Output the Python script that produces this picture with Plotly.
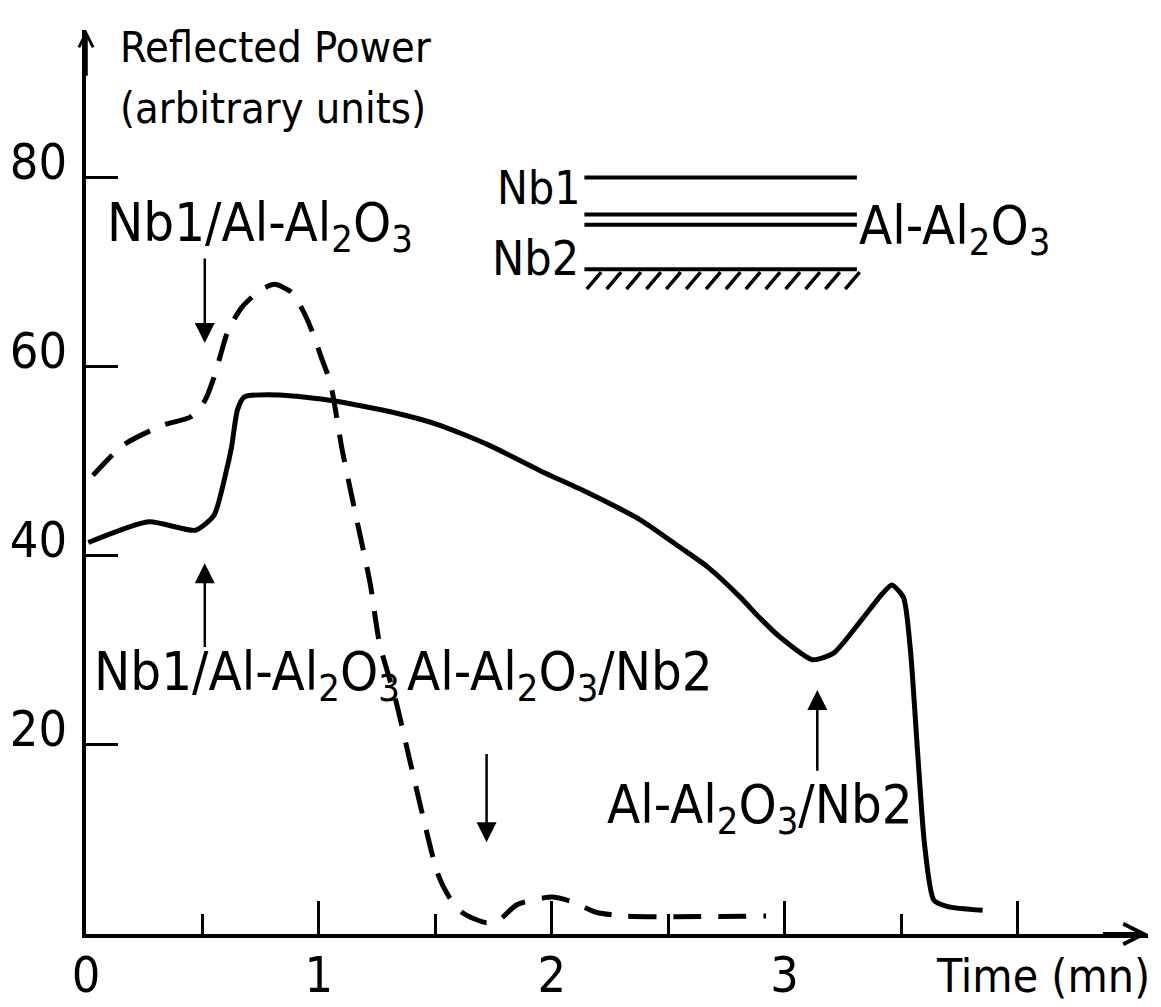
"""
Reflected power vs time during Nb1/Al-Al2O3/Nb2 trilayer etching
"""

import plotly.graph_objects as go

# Data
solid_t = [0.01, 0.27, 0.47, 0.55, 0.60, 0.625, 0.65, 0.68, 0.83, 1.06, 1.33,
           1.52, 1.73, 1.95, 2.16, 2.38, 2.55, 2.67, 2.81, 2.89, 2.98, 3.12,
           3.21, 3.32, 3.42, 3.46, 3.51, 3.54, 3.57, 3.60, 3.64, 3.70, 3.85]
solid_p = [41.4, 43.6, 42.7, 44.3, 48.7, 51.5, 55.4, 56.8, 57.0, 56.4, 55.1,
           53.8, 51.7, 49.0, 46.6, 43.8, 40.9, 38.8, 35.6, 33.5, 31.4, 29.0,
           29.7, 32.9, 36.0, 36.9, 35.6, 30.0, 19.5, 9.6, 3.6, 2.9, 2.5]

dashed_t = [0.03, 0.16, 0.33, 0.45, 0.51, 0.55, 0.575, 0.61, 0.67, 0.75, 0.81,
            0.88, 0.93, 0.97, 1.01, 1.05, 1.10, 1.16, 1.22, 1.26, 1.33, 1.39,
            1.45, 1.51, 1.56, 1.62, 1.72, 1.78, 1.85, 2.00, 2.09, 2.19, 2.32,
            2.92]
dashed_p = [48.5, 51.7, 53.8, 54.7, 56.4, 58.9, 61.0, 63.8, 66.3, 68.1, 68.7,
            67.9, 66.0, 63.8, 61.0, 58.2, 51.2, 44.1, 37.1, 30.8, 24.7, 18.4,
            12.1, 6.4, 3.9, 2.2, 1.2, 1.6, 3.1, 3.9, 3.4, 2.3, 1.9,
            1.9]

x_ticks = [0, 1, 2, 3, 4]
x_tick_text = ['0', '1', '2', '3', '']
y_ticks = [20, 40, 60, 80]

# Style
FONT = 'DejaVu Sans Condensed, Liberation Sans Narrow, DejaVu Sans, sans-serif'
INK = 'black'
X_MAX, Y_MAX = 4.56, 95.6
# page body has an 8px margin, so the figure is drawn 8px smaller
FIG_W, FIG_H = 1153, 999

fig = go.Figure()

fig.add_trace(go.Scatter(
    x=dashed_t, y=dashed_p, mode='lines',
    line=dict(color=INK, width=5, dash='28px,17px', shape='spline', smoothing=0.7),
    hoverinfo='skip'
))
fig.add_trace(go.Scatter(
    x=solid_t, y=solid_p, mode='lines',
    line=dict(color=INK, width=5, shape='spline', smoothing=0.6),
    hoverinfo='skip'
))

annotations = []


def label(text, x, y, size=54, yref='y'):
    annotations.append(dict(
        text=text, x=x, y=y, xref='x', yref=yref, showarrow=False,
        xanchor='left', yanchor='middle',
        font=dict(family=FONT, size=size, color=INK)
    ))


def arrow(x, y_tail, y_tip):
    annotations.append(dict(
        text='', x=x, y=y_tip, ax=x, ay=y_tail, xref='x', yref='y',
        axref='x', ayref='y', showarrow=True, arrowhead=2, arrowsize=1.6,
        arrowwidth=2.5, arrowcolor=INK
    ))


# axis arrowheads
annotations.append(dict(text='', x=X_MAX, y=0, ax=X_MAX - 0.2, ay=0, xref='x', yref='y',
                        axref='x', ayref='y', showarrow=True, arrowhead=5, arrowsize=1.0,
                        arrowwidth=4, arrowcolor=INK))
annotations.append(dict(text='', x=0, y=Y_MAX, ax=0, ay=Y_MAX - 5, xref='x', yref='y',
                        axref='x', ayref='y', showarrow=True, arrowhead=5, arrowsize=0.8,
                        arrowwidth=3.5, arrowcolor=INK))

# axis titles
label('Reflected Power', 0.137, 93.8, size=43)
label('(arbitrary units)', 0.137, 87.4, size=43)
label('Time (mn)', 3.64, -4.4 / Y_MAX, size=46, yref='paper')

# interface labels + arrows
label('Nb1/Al-Al<sub>2</sub>O<sub>3</sub>', 0.082, 74.9)
arrow(0.51, 71.6, 62.5)
label('Nb1/Al-Al<sub>2</sub>O<sub>3</sub>', 0.026, 27.4)
arrow(0.51, 30.2, 39.2)
label('Al-Al<sub>2</sub>O<sub>3</sub>/Nb2', 1.37, 27.4)
arrow(1.72, 19.2, 9.7)
label('Al-Al<sub>2</sub>O<sub>3</sub>/Nb2', 2.23, 13.3)
arrow(3.14, 17.1, 25.8)

# layer stack inset
IX0, IX1 = 2.14, 3.31
label('Nb1', 1.755, 78.9, size=46)
label('Nb2', 1.734, 71.5, size=48)
label('Al-Al<sub>2</sub>O<sub>3</sub>', 3.31, 74.6)

shapes = []
for yy in [80.0, 76.1, 75.0, 70.3]:
    shapes.append(dict(type='line', xref='x', yref='y', x0=IX0, x1=IX1, y0=yy, y1=yy,
                       line=dict(color=INK, width=4)))
n_hatch = 14
step = (IX1 - IX0 - 0.06) / (n_hatch - 1)
for i in range(n_hatch):
    hx = IX0 + 0.01 + i * step
    shapes.append(dict(type='line', xref='x', yref='y', x0=hx, x1=hx + 0.062,
                       y0=68.2, y1=70.0, line=dict(color=INK, width=3.5)))

fig.update_layout(
    width=FIG_W, height=FIG_H,
    margin=dict(l=78, r=13, t=22, b=73),
    plot_bgcolor='white', paper_bgcolor='white',
    showlegend=False,
    annotations=annotations,
    shapes=shapes,
    font=dict(family=FONT, color=INK),
    xaxis=dict(
        range=[0, X_MAX], showgrid=False, zeroline=False, automargin=False,
        showline=True, linecolor=INK, linewidth=4,
        tickmode='array', tickvals=x_ticks, ticktext=x_tick_text,
        ticks='inside', ticklen=33, tickwidth=3, tickcolor=INK,
        minor=dict(tickmode='array', tickvals=[0.5, 1.5, 2.5, 3.5], ticks='inside',
                   ticklen=20, tickwidth=3, tickcolor=INK),
        tickfont=dict(family=FONT, size=50, color=INK),
        ticklabelstandoff=-6,
    ),
    yaxis=dict(
        range=[0, Y_MAX], showgrid=False, zeroline=False, automargin=False,
        showline=True, linecolor=INK, linewidth=4,
        tickmode='array', tickvals=y_ticks,
        ticks='inside', ticklen=32, tickwidth=3, tickcolor=INK,
        tickfont=dict(family=FONT, size=50, color=INK),
        ticklabelstandoff=5, ticklabelshift=-16,
    ),
)

fig.write_html('out.html')
